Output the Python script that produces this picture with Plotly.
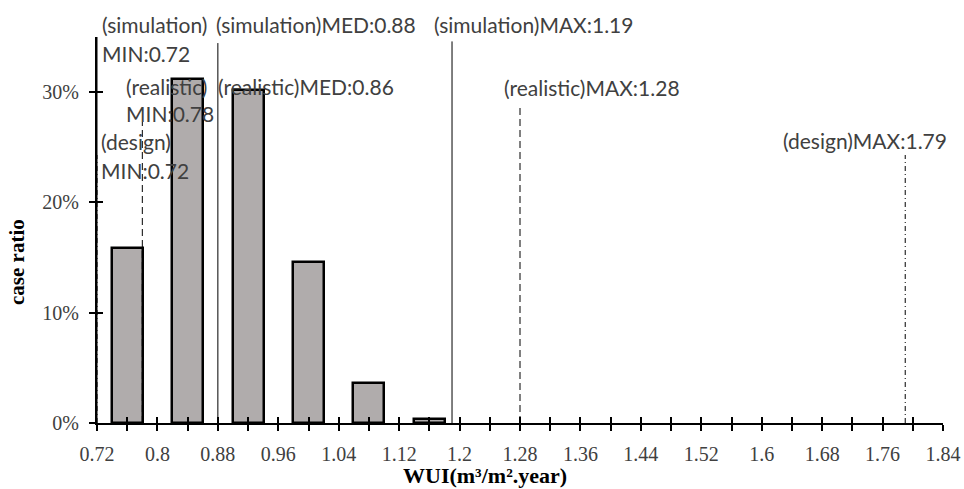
import plotly.graph_objects as go

# Histogram of WUI (m3/m2.year) across simulated cases
bin_centers = [0.76, 0.84, 0.92, 1.00, 1.08, 1.16]
case_ratio = [0.159, 0.312, 0.302, 0.146, 0.036, 0.004]

# x-axis labels every 0.08, with unlabelled ticks halfway between
tick_labels = ["0.72", "0.8", "0.88", "0.96", "1.04", "1.12", "1.2", "1.28",
               "1.36", "1.44", "1.52", "1.6", "1.68", "1.76", "1.84"]
tick_values = [float(t) for t in tick_labels]

y_tick_values = [0, 0.1, 0.2, 0.3]

# Reference statistics for each scenario
sim_names = ["MIN", "MED", "MAX"]
sim_values = [0.72, 0.88, 1.19]
real_names = ["MIN", "MED", "MAX"]
real_values = [0.78, 0.86, 1.28]
design_names = ["MIN", "MAX"]
design_values = [0.72, 1.79]

W, H = 964, 489
L, R, T, B = 97, 21, 37, 66
X0, X1 = 0.72, 1.84
Y0, Y1 = 0.0, 0.35
PW, PH = W - L - R, H - T - B

TEXT = "#404040"
ANN_FONT = dict(family="Lato, Calibri, sans-serif", size=21, color=TEXT)
SERIF = "Liberation Serif, Times New Roman, serif"


def px_x(px):
    return (px - L) / PW


def px_y(py):
    return (H - B - py) / PH


fig = go.Figure()
fig.add_trace(go.Bar(
    x=bin_centers, y=case_ratio, width=0.041,
    marker=dict(color="#B0ACAC", line=dict(color="black", width=2.5)),
    showlegend=False, hoverinfo="skip",
))
# helper trace so the overlaid tick axes are drawn
fig.add_trace(go.Scatter(x=[X0], y=[Y0], xaxis="x2", yaxis="y2", mode="markers",
                         marker=dict(opacity=0), showlegend=False, hoverinfo="skip"))

# vertical marker lines: (values, line style, top of line in axis units)
styles = [
    (sim_values, dict(color="black", width=1), [0.35, 0.3445, 0.346]),
    (real_values, dict(color="black", width=1, dash="7px,4px"), [0.273, 0.290, 0.287]),
    (design_values, dict(color="black", width=1, dash="5px,3px,1px,3px"), [0.243, 0.243]),
]
for vals, line, tops in styles:
    for v, top in zip(vals, tops):
        fig.add_shape(type="line", xref="x", yref="y", x0=v, x1=v, y0=0, y1=top,
                      line=line, layer="above")

# text labels for the statistics
labels = [
    ("(simulation)", 101, 25),
    (f"{sim_names[0]}:{sim_values[0]:.2f}", 101, 53),
    (f"(simulation){sim_names[1]}:{sim_values[1]:.2f}", 215, 25),
    (f"(simulation){sim_names[2]}:{sim_values[2]:.2f}", 433, 25),
    ("(realistic)", 125, 86),
    (f"{real_names[0]}:{real_values[0]:.2f}", 125, 113),
    (f"(realistic){real_names[1]}:{real_values[1]:.2f}", 217, 86),
    (f"(realistic){real_names[2]}:{real_values[2]:.2f}", 503, 87),
    ("(design)", 100, 141),
    (f"{design_names[0]}:{design_values[0]:.2f}", 100, 170),
    (f"(design){design_names[1]}:{design_values[1]:.2f}", 782, 140),
]
for text, lx, cy in labels:
    fig.add_annotation(text=text, xref="paper", yref="paper", x=px_x(lx), y=px_y(cy),
                       xanchor="left", yanchor="middle", showarrow=False,
                       font=ANN_FONT, borderpad=0)

# axis titles
fig.add_annotation(text="WUI(m³/m².year)", xref="paper", yref="paper",
                   x=px_x(485), y=px_y(475), xanchor="center", yanchor="middle",
                   showarrow=False, borderpad=0,
                   font=dict(family=SERIF, size=22, color="black", weight="bold"))
fig.add_annotation(text="case ratio", xref="paper", yref="paper",
                   x=px_x(17), y=px_y(262), xanchor="center", yanchor="middle",
                   textangle=-90, showarrow=False,
                   font=dict(family=SERIF, size=21, color="black", weight="bold"))

tick_font = dict(family=SERIF, size=20, color=TEXT)
minor_ticks = dict(tick0=X0, dtick=0.04, ticklen=6, tickwidth=2, tickcolor="black",
                   showgrid=False)

fig.update_layout(
    width=W, height=H,
    margin=dict(l=L, r=R, t=T, b=B, autoexpand=False),
    plot_bgcolor="white", paper_bgcolor="white",
    bargap=0,
    xaxis=dict(range=[X0, X1], tickmode="array", tickvals=tick_values, ticktext=tick_labels,
               ticks="outside", ticklen=6, tickwidth=2, tickcolor="black",
               minor=dict(ticks="outside", **minor_ticks), automargin=False,
               showline=True, linecolor="black", linewidth=2, showgrid=False,
               zeroline=False, tickfont=tick_font, ticklabelstandoff=6),
    yaxis=dict(range=[Y0, Y1], tickmode="array", tickvals=y_tick_values,
               tickformat=".0%", ticks="outside", ticklen=6, tickwidth=2,
               tickcolor="black", showline=True, linecolor="black", linewidth=2,
               showgrid=False, zeroline=False, tickfont=tick_font, ticklabelstandoff=6,
               automargin=False),
    xaxis2=dict(range=[X0, X1], overlaying="x", tickmode="array", tickvals=tick_values,
                ticks="inside", ticklen=6, tickwidth=2, tickcolor="black",
                minor=dict(ticks="inside", **minor_ticks), automargin=False,
                showticklabels=False, showline=False, showgrid=False, zeroline=False,
                side="bottom"),
    yaxis2=dict(range=[Y0, Y1], overlaying="y", tickmode="array", tickvals=y_tick_values,
                ticks="inside", ticklen=6, tickwidth=2, tickcolor="black", automargin=False,
                showticklabels=False, showline=False, showgrid=False, zeroline=False,
                side="left"),
)

fig.write_html("out.html")
